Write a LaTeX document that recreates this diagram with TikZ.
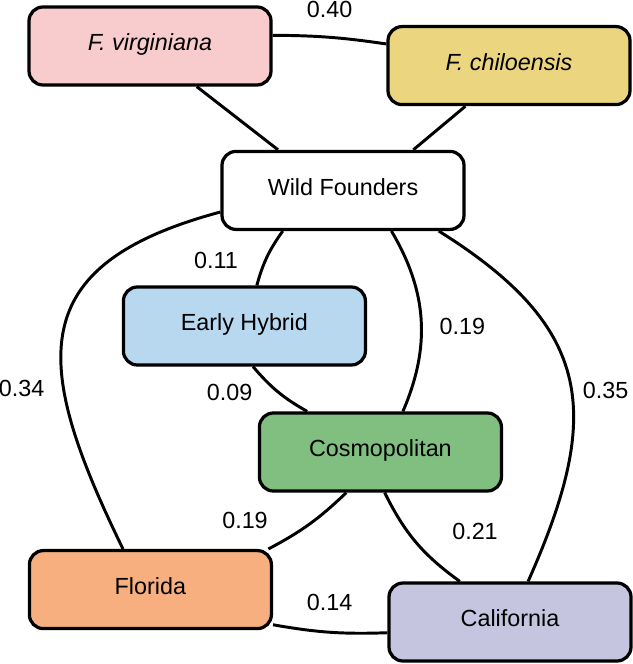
\documentclass[tikz,border=0pt]{standalone}
\usepackage{fontspec}
\setmainfont{Liberation Sans}
\usepackage{xcolor}
\usetikzlibrary{calc,positioning}

\definecolor{virgpink}{HTML}{F8CBCD}
\definecolor{chilyellow}{HTML}{EBD67F}
\definecolor{hybblue}{HTML}{B8D8F0}
\definecolor{cosmogreen}{HTML}{80BF80}
\definecolor{florange}{HTML}{F8AF80}
\definecolor{callav}{HTML}{C5C5DF}

\begin{document}
\begin{tikzpicture}[-,auto,thick,
                    pop node/.style={rectangle,rounded corners=0.35cm,draw,line width=2.3pt,
                      minimum width=6.05cm,minimum height=1.95cm,text height=1.6ex,text depth=.3ex,
                      font=\fontsize{16.6}{19}\selectfont},
                    wt/.style={font=\fontsize{16.6}{19}\selectfont},
                    link/.style={line width=2.1pt}]

  \useasboundingbox (0,0) rectangle (15.825,-16.6);

  \node[pop node,fill=virgpink] (virg) at (3.75,-1.15) {\textit{F. virginiana}};
  \node[pop node,fill=chilyellow] (chil) at (12.725,-1.64) {\textit{F. chiloensis}};
  \node[pop node,fill=white] (wf) at (8.575,-4.76) {Wild Founders};
  \node[pop node,fill=hybblue] (eh) at (6.11,-8.15) {Early Hybrid};
  \node[pop node,fill=cosmogreen] (cosmo) at (9.51,-11.3) {Cosmopolitan};
  \node[pop node,fill=florange] (flor) at (3.76,-14.74) {Florida};
  \node[pop node,fill=callav] (cal) at (12.75,-15.55) {California};

  \path[link]
    (virg.5) edge[bend left=4] (chil.170)
    (virg.-41) edge (wf.148)
    (chil.223) edge (wf.30)
    (wf.190) edge[out=195,in=116,looseness=1.5] (flor.124)
    (wf.214) edge[bend right=10] (eh.73)
    (wf.-40) edge[bend left=27] (cosmo.61)
    (wf.-23) edge[out=-32,in=66,looseness=1.3] (cal.66)
    (eh.-78) edge[bend right=10] (cosmo.151)
    (cosmo.230) edge[bend left=8] (flor.19)
    (cosmo.-84) edge[bend right=14] (cal.141)
    (flor.-16) edge[bend right=6] (cal.185);

  % weights
  \node[wt] (w40) at (8.24,-0.24) {0.40};
  \node[wt] (w11) at (5.4,-6.5) {0.11};
  \node[wt] (w19a) at (11.56,-8.16) {0.19};
  \node[wt] (w34) at (0.54,-9.71) {0.34};
  \node[wt] (w09) at (5.74,-9.8) {0.09};
  \node[wt] (w35) at (15.14,-9.75) {0.35};
  \node[wt] (w19b) at (6.125,-13.01) {0.19};
  \node[wt] (w21) at (11.875,-13.29) {0.21};
  \node[wt] (w14) at (8.24,-15.05) {0.14};

\end{tikzpicture}
\end{document}
